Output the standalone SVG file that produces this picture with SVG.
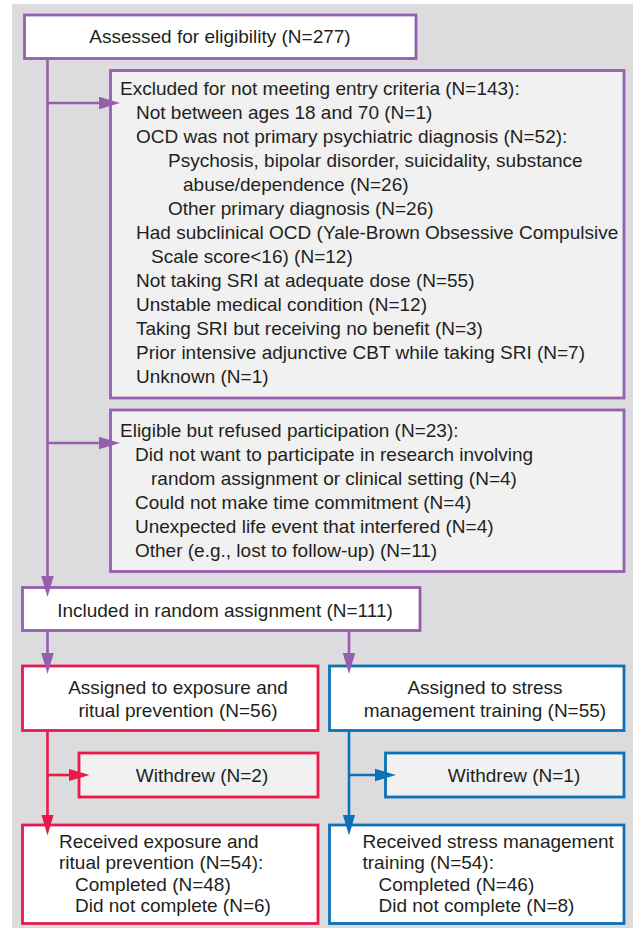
<svg xmlns="http://www.w3.org/2000/svg" width="633" height="930" viewBox="0 0 633 930">
<style>
text{font-family:"Liberation Sans",Arial,sans-serif;font-size:19px;fill:#231f20}
.m{text-anchor:middle}
.box{stroke-width:2.8}
.w{fill:#ffffff}
.g{fill:#f1f1f1}
.p{stroke:#965fae}
.r{stroke:#e81a4b}
.b{stroke:#0b72b9}
.ln{fill:none;stroke-width:2.6}
</style>
<defs>
<marker id="ap" markerUnits="userSpaceOnUse" markerWidth="21" markerHeight="13" refX="10" refY="6.25" orient="auto"><path d="M0,0 L21,6.25 L0,12.5 z" fill="#965fae"/></marker>
<marker id="ar" markerUnits="userSpaceOnUse" markerWidth="21" markerHeight="13" refX="10" refY="6.25" orient="auto"><path d="M0,0 L21,6.25 L0,12.5 z" fill="#e81a4b"/></marker>
<marker id="ab" markerUnits="userSpaceOnUse" markerWidth="21" markerHeight="13" refX="10" refY="6.25" orient="auto"><path d="M0,0 L21,6.25 L0,12.5 z" fill="#0b72b9"/></marker>
</defs>
<rect x="12" y="4" width="621" height="924" fill="#dcdcde"/>

<g id="assessed"><rect class="box w p" x="24.5" y="15" width="391.5" height="43.5"/><text class="m" x="220" y="43">Assessed for eligibility (N=277)</text></g>

<g id="excluded"><rect class="box g p" x="110.5" y="70.5" width="513.5" height="327.5"/>
<text x="120" y="95">Excluded for not meeting entry criteria (N=143):</text>
<text x="136" y="119">Not between ages 18 and 70 (N=1)</text>
<text x="136" y="143">OCD was not primary psychiatric diagnosis (N=52):</text>
<text x="168" y="167">Psychosis, bipolar disorder, suicidality, substance</text>
<text x="183" y="191">abuse/dependence (N=26)</text>
<text x="168" y="215">Other primary diagnosis (N=26)</text>
<text x="136" y="239">Had subclinical OCD (Yale-Brown Obsessive Compulsive</text>
<text x="151" y="263">Scale score&lt;16) (N=12)</text>
<text x="136" y="287">Not taking SRI at adequate dose (N=55)</text>
<text x="136" y="311">Unstable medical condition (N=12)</text>
<text x="136" y="335">Taking SRI but receiving no benefit (N=3)</text>
<text x="136" y="359">Prior intensive adjunctive CBT while taking SRI (N=7)</text>
<text x="136" y="383">Unknown (N=1)</text></g>

<g id="refused"><rect class="box g p" x="110.5" y="410" width="513.5" height="161.5"/>
<text x="120" y="437">Eligible but refused participation (N=23):</text>
<text x="135" y="461">Did not want to participate in research involving</text>
<text x="151" y="485">random assignment or clinical setting (N=4)</text>
<text x="135" y="509">Could not make time commitment (N=4)</text>
<text x="135" y="533">Unexpected life event that interfered (N=4)</text>
<text x="135" y="557">Other (e.g., lost to follow-up) (N=11)</text></g>

<g id="included"><rect class="box w p" x="22.5" y="587.5" width="397.5" height="43"/><text class="m" x="225" y="616.5">Included in random assignment (N=111)</text></g>

<g id="erp"><rect class="box w r" x="22.5" y="666" width="295.5" height="64.5"/><text class="m" x="178" y="694">Assigned to exposure and</text><text class="m" x="178" y="717">ritual prevention (N=56)</text></g>

<g id="smt"><rect class="box w b" x="329.5" y="666" width="294.5" height="64.5"/><text class="m" x="485" y="694">Assigned to stress</text><text class="m" x="485" y="717">management training (N=55)</text></g>

<g id="withdrew-erp"><rect class="box g r" x="79" y="753" width="239" height="44"/><text class="m" x="202" y="782">Withdrew (N=2)</text></g>

<g id="withdrew-smt"><rect class="box g b" x="385.5" y="753" width="238.5" height="44"/><text class="m" x="514" y="782">Withdrew (N=1)</text></g>

<g id="received-erp"><rect class="box w r" x="22.5" y="825" width="295.5" height="98.5"/>
<text x="59" y="847.5">Received exposure and</text>
<text x="59" y="869">ritual prevention (N=54):</text>
<text x="75" y="890.5">Completed (N=48)</text>
<text x="75" y="912">Did not complete (N=6)</text></g>

<g id="received-smt"><rect class="box w b" x="329.5" y="825" width="294.5" height="98.5"/>
<text x="362.5" y="847.5">Received stress management</text>
<text x="362.5" y="869">training (N=54):</text>
<text x="378.5" y="890.5">Completed (N=46)</text>
<text x="378.5" y="912">Did not complete (N=8)</text></g>

<g id="connectors">
<path class="ln p" d="M47.5,59.5 V586" marker-end="url(#ap)"/>
<path class="ln p" d="M47.5,103 H109" marker-end="url(#ap)"/>
<path class="ln p" d="M47.5,443 H109" marker-end="url(#ap)"/>
<path class="ln p" d="M47.5,631.5 V663" marker-end="url(#ap)"/>
<path class="ln p" d="M349,631.5 V663" marker-end="url(#ap)"/>
<path class="ln r" d="M47.5,731.5 V824.5" marker-end="url(#ar)"/>
<path class="ln r" d="M47.5,775 H78.5" marker-end="url(#ar)"/>
<path class="ln b" d="M349,731.5 V824.5" marker-end="url(#ab)"/>
<path class="ln b" d="M349,775 H385" marker-end="url(#ab)"/>
</g>
</svg>
